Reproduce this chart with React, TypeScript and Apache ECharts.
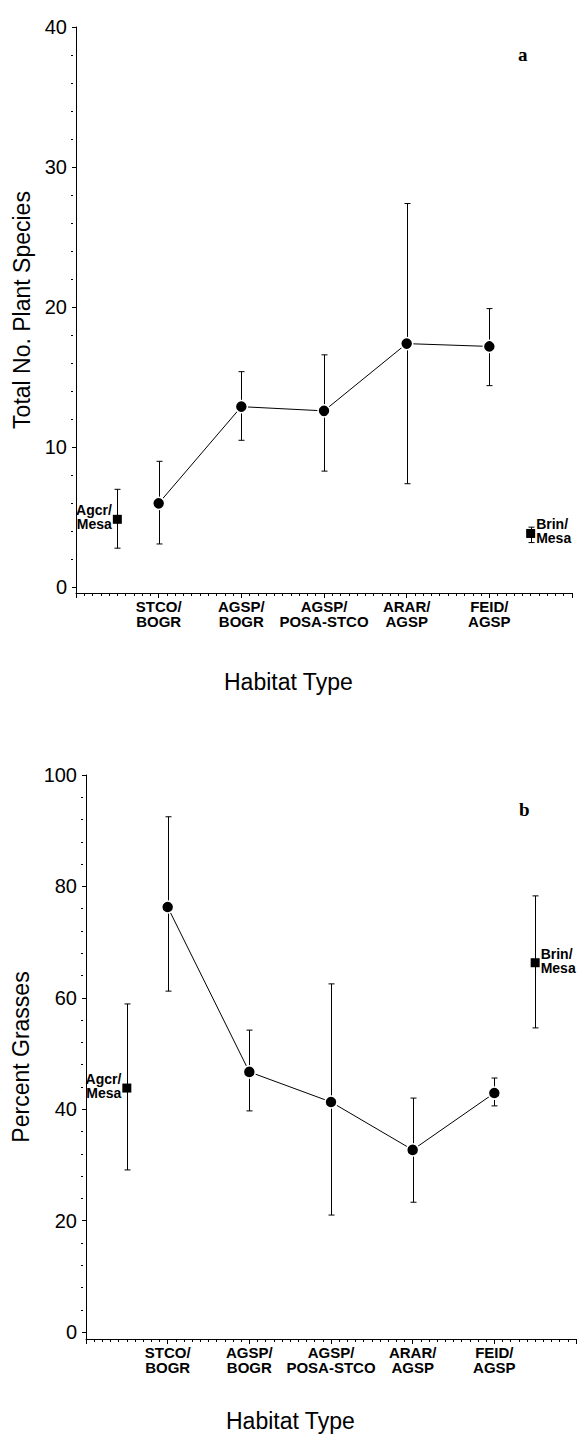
import React, { useEffect, useRef } from "react";
import * as echarts from "echarts";

// ---------- data ----------
const categories = ["STCO/\nBOGR", "AGSP/\nBOGR", "AGSP/\nPOSA-STCO", "ARAR/\nAGSP", "FEID/\nAGSP"];
const categoryPos = [1, 2, 3, 4, 5];
const refSites = ["Agcr/\nMesa", "Brin/\nMesa"];
const refPos = [0.5, 5.5];

// panel a: total number of plant species
const speciesMean = [6.0, 12.9, 12.6, 17.4, 17.2];
const speciesLow = [3.1, 10.5, 8.3, 7.4, 14.4];
const speciesHigh = [9.0, 15.4, 16.6, 27.4, 19.9];
const refSpeciesMean = [4.86, 3.85];
const refSpeciesLow = [2.8, 3.2];
const refSpeciesHigh = [7.0, 4.3];

// panel b: percent grasses
const grassMean = [76.3, 46.7, 41.3, 32.7, 42.9];
const grassLow = [61.2, 39.7, 21.0, 23.3, 40.6];
const grassHigh = [92.5, 54.2, 62.5, 42.0, 45.6];
const refGrassMean = [43.8, 66.3];
const refGrassLow = [29.1, 54.6];
const refGrassHigh = [58.9, 78.3];

// tick labels
const speciesTicks = [0, 10, 20, 30, 40];
const speciesMinorTicks = [2, 4, 6, 8, 12, 14, 16, 18, 22, 24, 26, 28, 32, 34, 36, 38];
const grassTicks = [0, 20, 40, 60, 80, 100];
const grassMinorTicks = [4, 8, 12, 16, 24, 28, 32, 36, 44, 48, 52, 56, 64, 68, 72, 76, 84, 88, 92, 96];

const SANS = "'Liberation Sans', Arial, Helvetica, sans-serif";
const SERIF = "'Liberation Serif', 'Times New Roman', serif";

function errRender(params: any, api: any) {
  const x = api.value(0);
  const lo = api.coord([x, api.value(1)]);
  const hi = api.coord([x, api.value(2)]);
  const cx = Math.round(lo[0]) + 0.5;
  const cap = 3;
  const st = { stroke: "#000", lineWidth: 1 };
  return {
    type: "group",
    children: [
      { type: "line", shape: { x1: cx, y1: lo[1], x2: cx, y2: hi[1] }, style: st },
      { type: "line", shape: { x1: cx - cap, y1: lo[1], x2: cx + cap, y2: lo[1] }, style: st },
      { type: "line", shape: { x1: cx - cap, y1: hi[1], x2: cx + cap, y2: hi[1] }, style: st },
    ],
  };
}

function makeX(gridIndex: number) {
  return {
    type: "value",
    gridIndex,
    min: 0,
    max: 6,
    interval: 1,
    axisLine: { show: true, onZero: false, lineStyle: { color: "#000", width: 1 } },
    axisTick: { show: true, length: 5, lineStyle: { color: "#000", width: 1 } },
    minorTick: { show: true, splitNumber: 10, length: 3, lineStyle: { color: "#000", width: 1 } },
    splitLine: { show: false },
    minorSplitLine: { show: false },
    axisLabel: {
      margin: 6,
      fontSize: 15,
      fontWeight: "bold",
      lineHeight: 15,
      color: "#000",
      fontFamily: SANS,
      formatter: (v: number) => {
        const i = categoryPos.indexOf(v);
        return i >= 0 ? categories[i] : "";
      },
    },
  };
}

function makeY(gridIndex: number, min: number, max: number, ticks: number[], name: string, nameGap: number) {
  return {
    type: "value",
    gridIndex,
    position: "left",
    min,
    max,
    offset: 3,
    axisLine: { show: true, lineStyle: { color: "#000", width: 1 } },
    axisTick: { show: true, length: 4, customValues: ticks, lineStyle: { color: "#000", width: 1 } },
    axisLabel: { customValues: ticks, fontSize: 20, color: "#000", margin: 6, fontFamily: SANS },
    splitLine: { show: false },
    name,
    nameLocation: "middle",
    nameGap,
    nameTextStyle: { fontSize: 23, color: "#000", fontFamily: SANS },
  };
}

function makeMinorY(gridIndex: number, min: number, max: number, ticks: number[]) {
  return {
    type: "value",
    gridIndex,
    position: "left",
    min,
    max,
    offset: 3,
    axisLine: { show: false },
    axisTick: { show: true, length: 2, customValues: ticks, lineStyle: { color: "#000", width: 1 } },
    axisLabel: { show: false },
    splitLine: { show: false },
  };
}

function panelSeries(
  xIdx: number,
  yIdx: number,
  mean: number[],
  low: number[],
  high: number[],
  refMean: number[],
  refLow: number[],
  refHigh: number[]
) {
  return [
    {
      type: "custom",
      xAxisIndex: xIdx,
      yAxisIndex: yIdx,
      renderItem: errRender,
      data: categoryPos
        .map((x, i) => [x, low[i], high[i]])
        .concat(refPos.map((x, i) => [x, refLow[i], refHigh[i]])),
      z: 1,
      silent: true,
    },
    {
      type: "line",
      xAxisIndex: xIdx,
      yAxisIndex: yIdx,
      data: categoryPos.map((x, i) => [x, mean[i]]),
      symbol: "circle",
      symbolSize: 12,
      lineStyle: { color: "#000", width: 1 },
      itemStyle: { color: "#000", borderColor: "#fff", borderWidth: 1.5, opacity: 1 },
      z: 2,
    },
    {
      type: "scatter",
      xAxisIndex: xIdx,
      yAxisIndex: yIdx,
      symbol: "rect",
      symbolSize: 9,
      itemStyle: { color: "#000", opacity: 1 },
      data: refPos.map((x, i) => ({
        value: [x, refMean[i]],
        label: { position: i === 0 ? "left" : "right" },
      })),
      label: {
        show: true,
        formatter: (p: any) => refSites[p.dataIndex],
        fontSize: 14,
        fontWeight: "bold",
        lineHeight: 14,
        color: "#000",
        opacity: 1,
        fontFamily: SANS,
        distance: 1,
        offset: [0, -2],
      },
      z: 3,
    },
  ];
}

export default function App() {
  const ref = useRef<HTMLDivElement>(null);
  useEffect(() => {
    if (!ref.current) return;
    const chart = echarts.init(ref.current, undefined, { renderer: "svg" });
    const option: any = {
      animation: false,
      backgroundColor: "#fff",
      grid: [
        { left: 76, top: 27, width: 496, height: 566 },
        { left: 86, top: 775, width: 492, height: 564 },
      ],
      xAxis: [makeX(0), makeX(1)],
      yAxis: [
        makeY(0, -0.4, 40, speciesTicks, "Total No. Plant Species", 37),
        makeMinorY(0, -0.4, 40, speciesMinorTicks),
        makeY(1, -1.25, 100, grassTicks, "Percent Grasses", 50),
        makeMinorY(1, -1.25, 100, grassMinorTicks),
      ],
      series: [
        ...panelSeries(0, 0, speciesMean, speciesLow, speciesHigh, refSpeciesMean, refSpeciesLow, refSpeciesHigh),
        ...panelSeries(1, 2, grassMean, grassLow, grassHigh, refGrassMean, refGrassLow, refGrassHigh),
      ],
      graphic: [
        {
          type: "text",
          left: 224,
          top: 670,
          style: { text: "Habitat Type", fontSize: 23, fill: "#000", fontFamily: SANS },
        },
        {
          type: "text",
          left: 226,
          top: 1409,
          style: { text: "Habitat Type", fontSize: 23, fill: "#000", fontFamily: SANS },
        },
        {
          type: "text",
          left: 518,
          top: 45,
          style: { text: "a", fontSize: 19, fontWeight: "bold", fill: "#000", fontFamily: SERIF },
        },
        {
          type: "text",
          left: 519,
          top: 800,
          style: { text: "b", fontSize: 19, fontWeight: "bold", fill: "#000", fontFamily: SERIF },
        },
      ],
    };
    chart.setOption(option);
    return () => chart.dispose();
  }, []);
  return (
    <div
      ref={ref}
      style={{ position: "absolute", left: 0, top: 0, width: 579, height: 1437, background: "#fff" }}
    />
  );
}
